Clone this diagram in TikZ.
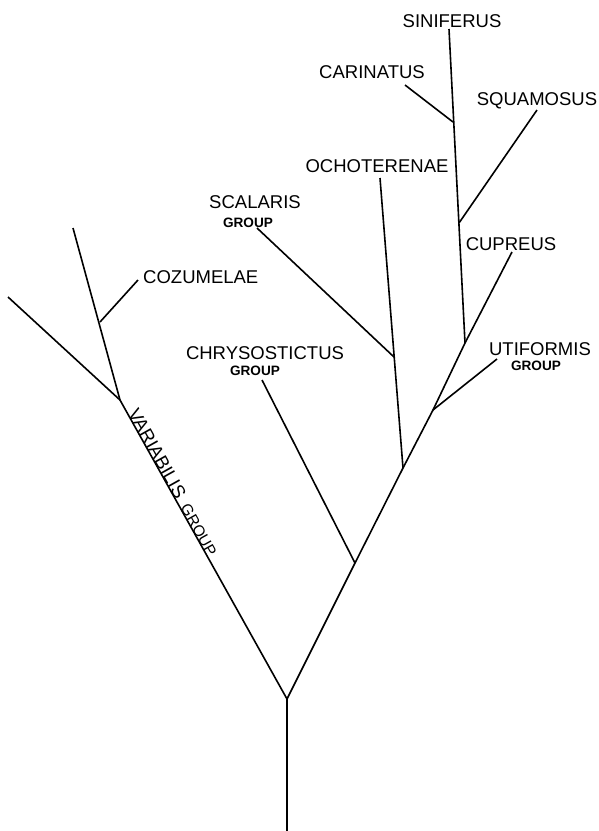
\documentclass[tikz,border=0pt]{standalone}
\usepackage{fontspec}
\usepackage{tikz}
\usetikzlibrary{positioning,calc}
\newfontfamily\letterfont{Liberation Sans}
\newcommand{\taxonfont}{\letterfont\fontsize{18.5}{20}\selectfont}
\newcommand{\grpfont}{\letterfont\bfseries\fontsize{13.6}{15}\selectfont}

\begin{document}
\begin{tikzpicture}[x=1pt, y=-1pt,
    branch/.style={line width=1.6pt},
    taxon/.style={font=\taxonfont, inner sep=0pt, anchor=base},
    grp/.style={font=\grpfont, inner sep=0pt, anchor=base},
    alongvar/.style={anchor=base west, inner sep=0pt, rotate=-60.8}]
    \useasboundingbox (0,0) rectangle (599,831);
    % junctions and free ends
    \coordinate (base) at (287,831);
    \coordinate (fork) at (287,699);
    \coordinate (vbend) at (120,400);
    \coordinate (vtop) at (73,228);
    \coordinate (vleft) at (8,297);
    \coordinate (cozj) at (100,322);
    \coordinate (coze) at (138,280);
    \coordinate (chrj) at (355,563);
    \coordinate (chre) at (262,380);
    \coordinate (ochj) at (403,468);
    \coordinate (oche) at (380,178);
    \coordinate (scaj) at (394,357);
    \coordinate (scae) at (257,228);
    \coordinate (utij) at (433,410);
    \coordinate (utie) at (497,359);
    \coordinate (cupj) at (465,343);
    \coordinate (cupe) at (512,252);
    \coordinate (sqj) at (459,223);
    \coordinate (sqe) at (537,110);
    \coordinate (carj) at (453,122);
    \coordinate (care) at (405,85);
    \coordinate (sine) at (449,29);
    % stem
    \draw[branch] (base) -- (fork);
    % variabilis side
    \draw[branch] (fork) -- (vbend) -- (vtop);
    \draw[branch] (vbend) -- (vleft);
    \draw[branch] (cozj) -- (coze);
    % right side
    \draw[branch] (fork) -- (chrj) -- (ochj) -- (utij) -- (cupj) -- (cupe);
    \draw[branch] (chrj) -- (chre);
    \draw[branch] (ochj) -- (oche);
    \draw[branch] (scaj) -- (scae);
    \draw[branch] (utij) -- (utie);
    \draw[branch] (cupj) -- (sine);
    \draw[branch] (sqj) -- (sqe);
    \draw[branch] (carj) -- (care);
    % labels
    \node[taxon] (sinif) at (452,27) {SINIFERUS};
    \node[taxon] (carin) at (372,78) {CARINATUS};
    \node[taxon] (squam) at (537,105) {SQUAMOSUS};
    \node[taxon] (ochot) at (377,172) {OCHOTERENAE};
    \node[taxon] (scal) at (255,208) {SCALARIS};
    \node[grp] (scalg) at (248,227) {GROUP};
    \node[taxon, anchor=base west] (cozu) at (143,283) {COZUMELAE};
    \node[taxon] (cupr) at (511,250) {CUPREUS};
    \node[taxon] (chrys) at (265,359) {CHRYSOSTICTUS};
    \node[grp] (chrysg) at (255,375) {GROUP};
    \node[taxon] (utif) at (540,355) {UTIFORMIS};
    \node[grp] (utifg) at (536,370) {GROUP};
    % text along the variabilis stem
    \path (vbend) -- (fork)
      node[alongvar, pos=0.044, font=\taxonfont] (varia) {VARIABILIS}
      node[alongvar, pos=0.36, font=\letterfont\fontsize{15.5}{16}\selectfont] (variag) {GROUP};
\end{tikzpicture}
\end{document}
